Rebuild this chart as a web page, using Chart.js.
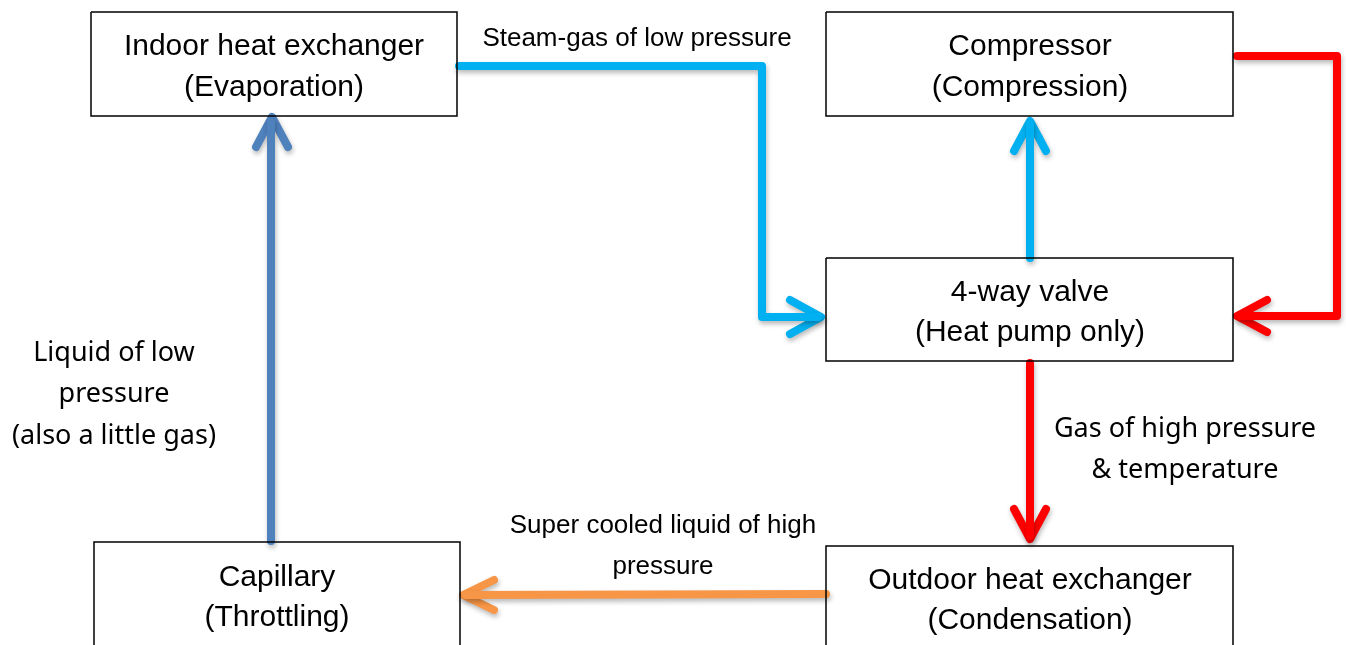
<!DOCTYPE html>
<html>
<head>
<meta charset="utf-8">
<title>Refrigeration cycle</title>
<script src="https://cdn.jsdelivr.net/npm/chart.js@4.4.1/dist/chart.umd.min.js"></script>
<style>
  html, body { margin: 0; padding: 0; background: #fff; }
  #wrap { width: 1346px; height: 645px; position: relative; }
</style>
</head>
<body>
<div id="wrap"><canvas id="diagram"></canvas></div>
<script>
// diagram space: x 0..1346, y 0..645 (top down)
const boxIndoor = [[91, 12], [457, 12], [457, 116], [91, 116], [91, 12]];
const boxCompressor = [[826, 12], [1233, 12], [1233, 116], [826, 116], [826, 12]];
const boxValve = [[826, 258], [1233, 258], [1233, 361], [826, 361], [826, 258]];
const boxCapillary = [[94, 660], [94, 542], [460, 542], [460, 660]];
const boxOutdoor = [[826, 660], [826, 546], [1233, 546], [1233, 660]];

const pathSteam = [[459, 66], [762, 66], [762, 317], [818, 317]];
const headSteam = [[790, 300], [821, 317], [790, 334]];
const pathToCompressor = [[1030, 258], [1030, 124]];
const headToCompressor = [[1014, 151], [1030, 121], [1046, 151]];
const pathDischarge = [[1237, 56], [1337, 56], [1337, 316], [1240, 316]];
const headDischarge = [[1267, 300], [1237, 316], [1267, 332]];
const pathHotGas = [[1030, 363], [1030, 536]];
const headHotGas = [[1014, 509], [1030, 539], [1046, 509]];
const pathLiquid = [[826, 594], [466, 595]];
const headLiquid = [[494, 580], [463, 595], [494, 610]];
const pathCapillary = [[271, 541], [271, 122]];
const headCapillary = [[256, 147], [272, 117], [288, 147]];

const boxLabels = [
  { x: 274, y: 47, text: 'Indoor heat exchanger' },
  { x: 274, y: 88, text: '(Evaporation)' },
  { x: 1030, y: 47, text: 'Compressor' },
  { x: 1030, y: 88, text: '(Compression)' },
  { x: 1030, y: 293, text: '4-way valve' },
  { x: 1030, y: 333, text: '(Heat pump only)' },
  { x: 277, y: 578, text: 'Capillary' },
  { x: 277, y: 618, text: '(Throttling)' },
  { x: 1030, y: 581, text: 'Outdoor heat exchanger' },
  { x: 1030, y: 621, text: '(Condensation)' }
];
const arialNotes = [
  { x: 637, y: 39, text: 'Steam-gas of low pressure' },
  { x: 663, y: 526, text: 'Super cooled liquid of high' },
  { x: 663, y: 567, text: 'pressure' }
];
const plainNotes = [
  { x: 114, y: 353, text: 'Liquid of low' },
  { x: 114, y: 394, text: 'pressure' },
  { x: 114, y: 436, text: '(also a little gas)' },
  { x: 1185, y: 429, text: 'Gas of high pressure' },
  { x: 1185, y: 470, text: '& temperature' }
];

const CYAN = '#00b0f0';
const RED = '#ff0000';
const ORANGE = '#f79646';
const BLUE = '#4f81bd';

const toPts = arr => arr.map(p => ({ x: p[0], y: p[1] }));

function boxSet(pts) {
  return {
    data: toPts(pts),
    borderColor: '#000',
    borderWidth: 1.5,
    pointRadius: 0,
    showLine: true,
    fill: false,
    borderJoinStyle: 'miter',
    tension: 0
  };
}

function arrowSet(pts, color) {
  return {
    data: toPts(pts),
    borderColor: color,
    borderWidth: 8,
    pointRadius: 0,
    showLine: true,
    fill: false,
    borderCapStyle: 'round',
    borderJoinStyle: 'round',
    tension: 0,
    shadow: true
  };
}

const labelPlugin = {
  id: 'labels',
  afterDatasetsDraw(chart) {
    const { ctx, scales: { x, y } } = chart;
    ctx.save();
    ctx.fillStyle = '#000';
    ctx.textAlign = 'center';
    ctx.textBaseline = 'middle';
    const draw = (list, font) => {
      ctx.font = font;
      list.forEach(l => ctx.fillText(l.text, x.getPixelForValue(l.x), y.getPixelForValue(l.y)));
    };
    draw(boxLabels, '30px "Liberation Sans", Arial, sans-serif');
    draw(arialNotes, '26px "Liberation Sans", Arial, sans-serif');
    draw(plainNotes, '27px "Noto Sans", "Open Sans", sans-serif');
    ctx.restore();
  }
};

const shadowPlugin = {
  id: 'shadow',
  beforeDatasetDraw(chart, args) {
    if (!args.meta._dataset.shadow) return;
    const ctx = chart.ctx;
    ctx.save();
    ctx.shadowColor = 'rgba(0,0,0,0.28)';
    ctx.shadowBlur = 5;
    ctx.shadowOffsetX = 1;
    ctx.shadowOffsetY = 3;
  },
  afterDatasetDraw(chart, args) {
    if (!args.meta._dataset.shadow) return;
    chart.ctx.restore();
  }
};

new Chart(document.getElementById('diagram'), {
  type: 'scatter',
  data: {
    datasets: [
      boxSet(boxIndoor),
      boxSet(boxCompressor),
      boxSet(boxValve),
      boxSet(boxCapillary),
      boxSet(boxOutdoor),
      arrowSet(pathSteam, CYAN),
      arrowSet(headSteam, CYAN),
      arrowSet(pathToCompressor, CYAN),
      arrowSet(headToCompressor, CYAN),
      arrowSet(pathDischarge, RED),
      arrowSet(headDischarge, RED),
      arrowSet(pathHotGas, RED),
      arrowSet(headHotGas, RED),
      arrowSet(pathLiquid, ORANGE),
      arrowSet(headLiquid, ORANGE),
      arrowSet(pathCapillary, BLUE),
      arrowSet(headCapillary, BLUE)
    ]
  },
  options: {
    responsive: true,
    maintainAspectRatio: false,
    animation: false,
    layout: { padding: 0 },
    plugins: { legend: { display: false }, tooltip: { enabled: false } },
    events: [],
    scales: {
      x: { type: 'linear', min: 0, max: 1346, display: false },
      y: { type: 'linear', min: 0, max: 645, reverse: true, display: false }
    }
  },
  plugins: [shadowPlugin, labelPlugin]
});
</script>
</body>
</html>
